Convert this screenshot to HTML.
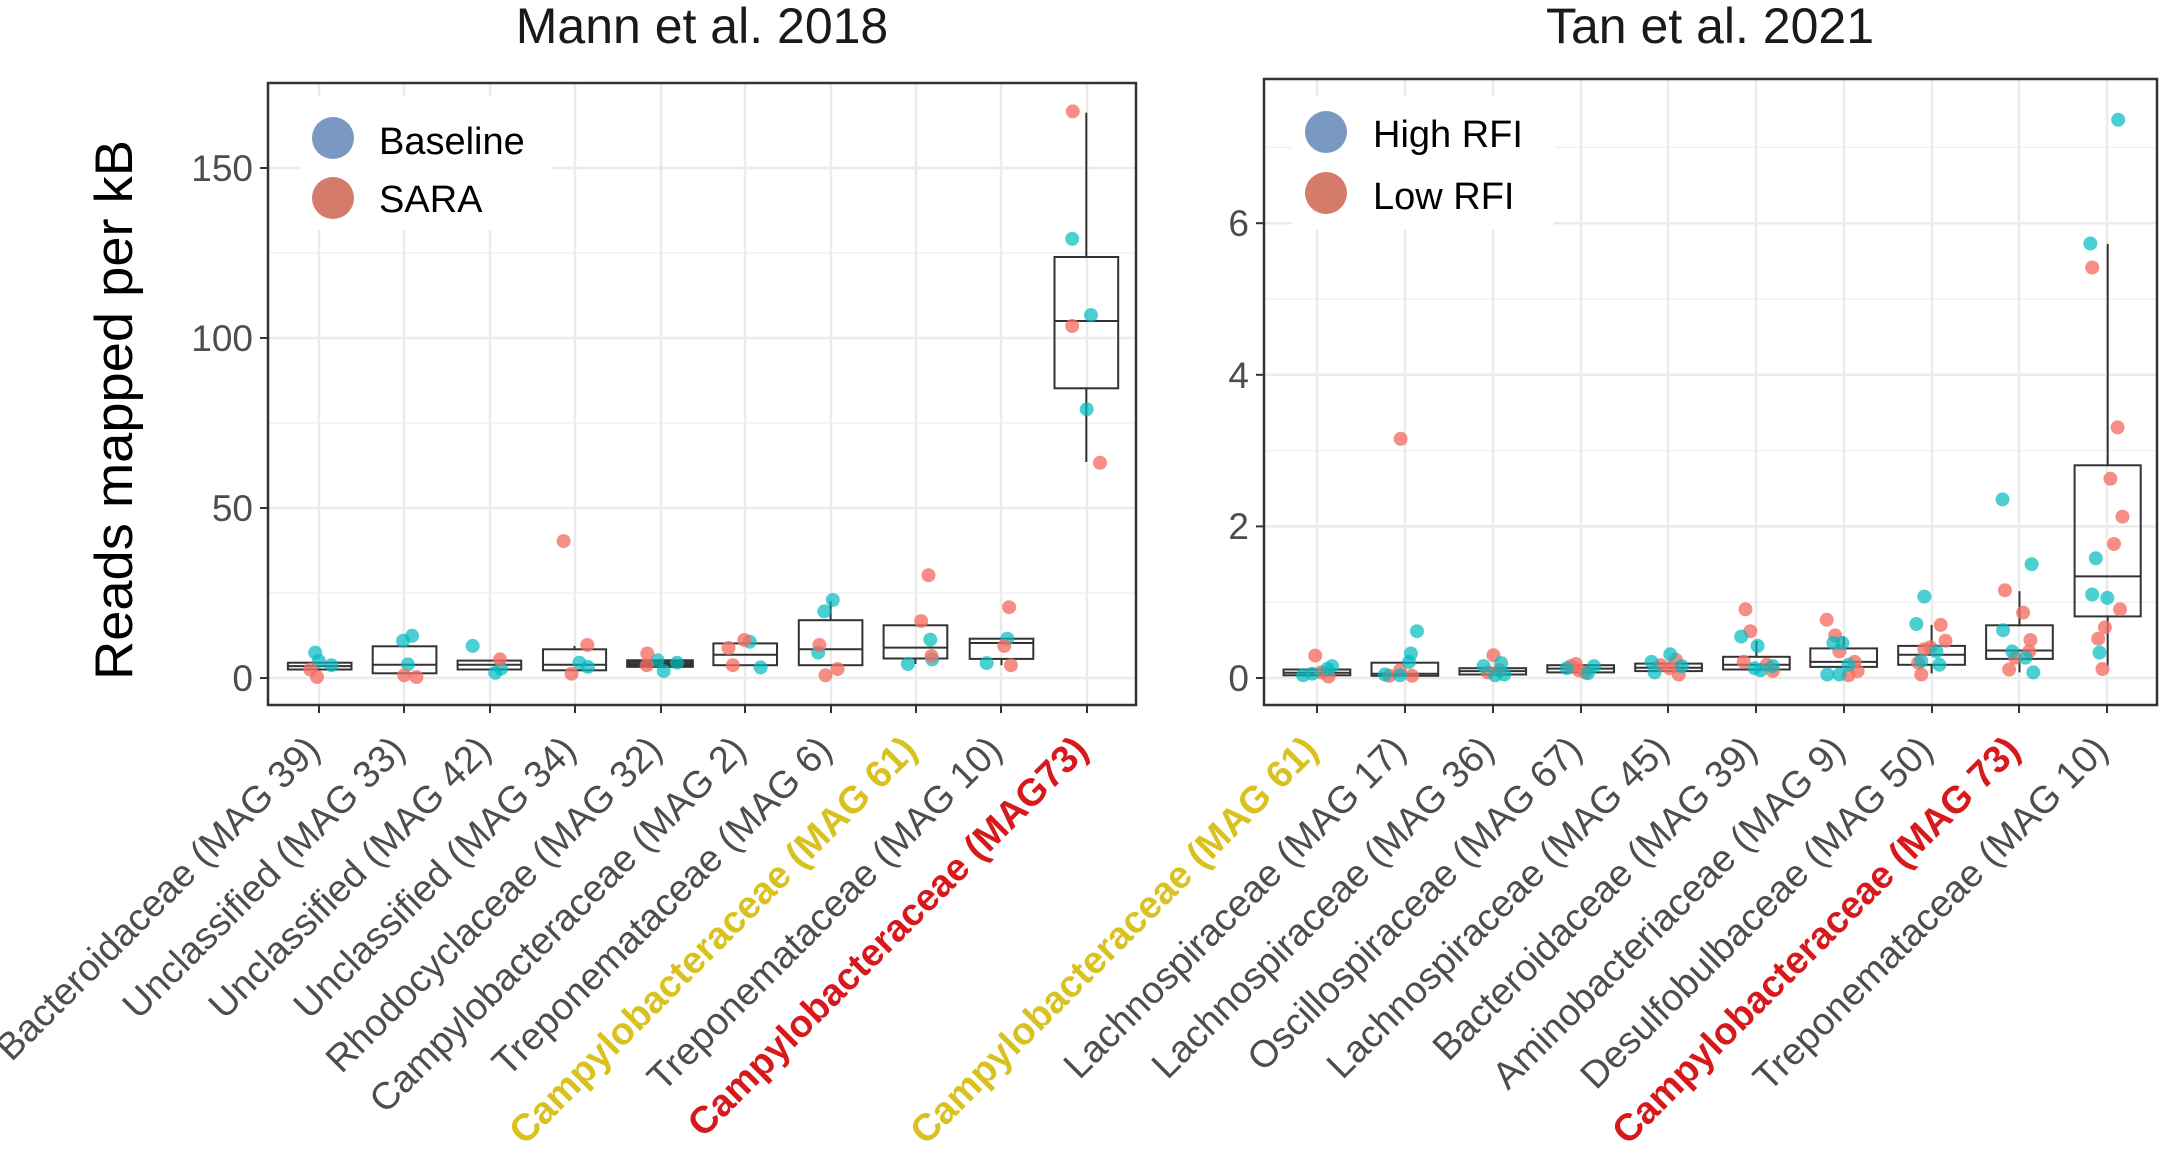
<!DOCTYPE html>
<html><head><meta charset="utf-8"><style>
html,body{margin:0;padding:0;background:#fff;}
svg{display:block;font-family:"Liberation Sans",Arial,sans-serif;}
</style></head><body>
<svg width="2161" height="1149" viewBox="0 0 2161 1149" xmlns="http://www.w3.org/2000/svg">
<rect width="2161" height="1149" fill="#fff"/>
<g stroke="#F0F0F0" stroke-width="1.5">
<line x1="268" x2="1136" y1="593" y2="593"/><line x1="268" x2="1136" y1="423" y2="423"/><line x1="268" x2="1136" y1="253" y2="253"/>
<line x1="1264" x2="2157" y1="602.2" y2="602.2"/><line x1="1264" x2="2157" y1="450.6" y2="450.6"/><line x1="1264" x2="2157" y1="299" y2="299"/><line x1="1264" x2="2157" y1="147.4" y2="147.4"/>
</g>
<g stroke="#EBEBEB" stroke-width="2.5">
<line x1="268" x2="1136" y1="678" y2="678"/><line x1="268" x2="1136" y1="508" y2="508"/><line x1="268" x2="1136" y1="338" y2="338"/><line x1="268" x2="1136" y1="168" y2="168"/>
<line x1="319" x2="319" y1="83" y2="705"/><line x1="404" x2="404" y1="83" y2="705"/><line x1="490" x2="490" y1="83" y2="705"/><line x1="575" x2="575" y1="83" y2="705"/><line x1="661" x2="661" y1="83" y2="705"/><line x1="745" x2="745" y1="83" y2="705"/><line x1="831" x2="831" y1="83" y2="705"/><line x1="916" x2="916" y1="83" y2="705"/><line x1="1001" x2="1001" y1="83" y2="705"/><line x1="1087" x2="1087" y1="83" y2="705"/>
<line x1="1264" x2="2157" y1="678" y2="678"/><line x1="1264" x2="2157" y1="526.4" y2="526.4"/><line x1="1264" x2="2157" y1="374.8" y2="374.8"/><line x1="1264" x2="2157" y1="223.2" y2="223.2"/>
<line x1="1317" x2="1317" y1="79" y2="705"/><line x1="1405" x2="1405" y1="79" y2="705"/><line x1="1493" x2="1493" y1="79" y2="705"/><line x1="1581" x2="1581" y1="79" y2="705"/><line x1="1668" x2="1668" y1="79" y2="705"/><line x1="1756" x2="1756" y1="79" y2="705"/><line x1="1844" x2="1844" y1="79" y2="705"/><line x1="1932" x2="1932" y1="79" y2="705"/><line x1="2019" x2="2019" y1="79" y2="705"/><line x1="2107" x2="2107" y1="79" y2="705"/>
</g>

<g stroke="#333" stroke-width="2" fill="none">
<rect x="287.9" y="662.7" width="63.6" height="6.8"/><line x1="287.9" x2="351.5" y1="666.1" y2="666.1"/>
<rect x="372.7" y="646.3" width="63.7" height="27"/><line x1="372.7" x2="436.4" y1="664.8" y2="664.8"/>
<rect x="457.6" y="660.6" width="63.6" height="8.9"/><line x1="457.6" x2="521.2" y1="664.8" y2="664.8"/>
<rect x="543" y="649.3" width="63.1" height="21"/><line x1="543" x2="606.1" y1="664.8" y2="664.8"/><line x1="574.5" x2="574.5" y1="645.9" y2="649.3"/>
<rect x="627.9" y="661" width="64.2" height="5.1" stroke-width="3.5"/><line x1="627.9" x2="692.1" y1="663.6" y2="663.6"/>
<rect x="713.4" y="643.4" width="63.6" height="21.8"/><line x1="713.4" x2="777" y1="654.7" y2="654.7"/>
<rect x="798.8" y="620.2" width="63.6" height="45"/><line x1="798.8" x2="862.4" y1="649.3" y2="649.3"/><line x1="830.6" x2="830.6" y1="600.9" y2="620.2"/>
<rect x="883.6" y="625.3" width="63.7" height="33.2"/><line x1="883.6" x2="947.3" y1="647.6" y2="647.6"/><line x1="915.4" x2="915.4" y1="658.5" y2="664"/>
<rect x="969.7" y="638.7" width="63.6" height="20.2"/><line x1="969.7" x2="1033.3" y1="643" y2="643"/><line x1="1001.5" x2="1001.5" y1="658.9" y2="665.2"/>
<rect x="1054.5" y="257" width="63.7" height="131.3"/><line x1="1054.5" x2="1118.2" y1="321" y2="321"/><line x1="1086.3" x2="1086.3" y1="112.6" y2="257"/><line x1="1086.3" x2="1086.3" y1="388.3" y2="462"/>
</g>
<g fill="rgba(0,186,192,0.7)">
<circle cx="315.2" cy="652.6" r="7"/><circle cx="318.8" cy="661" r="7"/><circle cx="331.5" cy="665.2" r="7"/>
<circle cx="403" cy="640.8" r="7"/><circle cx="412.1" cy="635.8" r="7"/><circle cx="407.9" cy="664.4" r="7"/>
<circle cx="472.7" cy="645.9" r="7"/><circle cx="495.2" cy="672.8" r="7"/><circle cx="501.2" cy="668.6" r="7"/>
<circle cx="579.4" cy="662.7" r="7"/><circle cx="587.9" cy="666.9" r="7"/>
<circle cx="657.6" cy="660.2" r="7"/><circle cx="663.7" cy="671.1" r="7"/><circle cx="677" cy="662.7" r="7"/>
<circle cx="749.7" cy="641.7" r="7"/><circle cx="760.6" cy="667.4" r="7"/>
<circle cx="832.8" cy="600" r="7"/><circle cx="824.3" cy="611.4" r="7"/><circle cx="818.2" cy="652.6" r="7"/>
<circle cx="907.9" cy="664" r="7"/><circle cx="930.3" cy="639.6" r="7"/><circle cx="932.2" cy="659.4" r="7"/>
<circle cx="986.7" cy="663.1" r="7"/><circle cx="1007.3" cy="638.7" r="7"/>
<circle cx="1072.2" cy="238.9" r="7"/><circle cx="1091" cy="315.1" r="7"/><circle cx="1086.7" cy="409.3" r="7"/>
</g>
<g fill="rgba(244,110,100,0.78)">
<circle cx="310.3" cy="669.5" r="7"/><circle cx="317" cy="677" r="7"/><circle cx="404.2" cy="675.3" r="7"/><circle cx="416.4" cy="677" r="7"/>
<circle cx="500" cy="659.4" r="7"/><circle cx="563.6" cy="541.1" r="7"/><circle cx="587.3" cy="645" r="7"/><circle cx="571.5" cy="673.7" r="7"/>
<circle cx="647.3" cy="653.5" r="7"/><circle cx="646.7" cy="665.2" r="7"/>
<circle cx="728.5" cy="648" r="7"/><circle cx="744.3" cy="640" r="7"/><circle cx="732.8" cy="665.2" r="7"/>
<circle cx="819.4" cy="645" r="7"/><circle cx="825.5" cy="675.3" r="7"/><circle cx="837.6" cy="669" r="7"/>
<circle cx="928.5" cy="575.2" r="7"/><circle cx="921.2" cy="621.1" r="7"/><circle cx="931.5" cy="656" r="7"/>
<circle cx="1009.1" cy="607.2" r="7"/><circle cx="1004.3" cy="645.9" r="7"/><circle cx="1010.9" cy="665.2" r="7"/>
<circle cx="1072.8" cy="111.4" r="7"/><circle cx="1072.2" cy="326" r="7"/><circle cx="1100" cy="462.8" r="7"/>
</g>

<g stroke="#333" stroke-width="2" fill="none">
<rect x="1283.6" y="669.5" width="66.7" height="5.8"/><line x1="1283.6" x2="1350.3" y1="672.8" y2="672.8"/>
<rect x="1371.5" y="662.7" width="66.7" height="13.1"/><line x1="1371.5" x2="1438.2" y1="673.7" y2="673.7"/>
<rect x="1459.4" y="668.2" width="66.7" height="6.3"/><line x1="1459.4" x2="1526.1" y1="671.1" y2="671.1"/>
<rect x="1547.3" y="665.2" width="66.7" height="7.2"/><line x1="1547.3" x2="1614" y1="668.6" y2="668.6"/>
<rect x="1635.2" y="663.6" width="66.7" height="7.5"/><line x1="1635.2" x2="1701.9" y1="667.8" y2="667.8"/>
<rect x="1723.1" y="656.8" width="66.6" height="12.7"/><line x1="1723.1" x2="1789.7" y1="664.8" y2="664.8"/><line x1="1756.4" x2="1756.4" y1="640.8" y2="656.8"/>
<rect x="1810.3" y="648.4" width="66.7" height="18.5"/><line x1="1810.3" x2="1877" y1="661.9" y2="661.9"/><line x1="1843.7" x2="1843.7" y1="636.6" y2="648.4"/>
<rect x="1898.2" y="645.9" width="66.7" height="18.9"/><line x1="1898.2" x2="1964.9" y1="654.7" y2="654.7"/><line x1="1931.6" x2="1931.6" y1="624.9" y2="645.9"/><line x1="1931.6" x2="1931.6" y1="664.8" y2="673.3"/>
<rect x="1986.1" y="625.3" width="66.7" height="33.6"/><line x1="1986.1" x2="2052.8" y1="650.5" y2="650.5"/><line x1="2019.5" x2="2019.5" y1="591.2" y2="625.3"/><line x1="2019.5" x2="2019.5" y1="658.9" y2="672.4"/>
<rect x="2074.6" y="465.3" width="66.1" height="151.1"/><line x1="2074.6" x2="2140.7" y1="576.4" y2="576.4"/><line x1="2107.7" x2="2107.7" y1="243.9" y2="465.3"/><line x1="2107.7" x2="2107.7" y1="616.4" y2="666.1"/>
</g>
<g fill="rgba(244,110,100,0.78)">
<circle cx="1315.2" cy="655.6" r="7"/><circle cx="1328.5" cy="676.6" r="7"/><circle cx="1321.2" cy="672.4" r="7"/>
<circle cx="1400.6" cy="438.8" r="7"/><circle cx="1389.1" cy="675.8" r="7"/><circle cx="1412.1" cy="675.8" r="7"/><circle cx="1400" cy="670.3" r="7"/>
<circle cx="1493.4" cy="655.2" r="7"/><circle cx="1487.9" cy="672.4" r="7"/><circle cx="1499.4" cy="670.3" r="7"/>
<circle cx="1570.9" cy="666.1" r="7"/><circle cx="1578.8" cy="670.3" r="7"/><circle cx="1584.9" cy="672.4" r="7"/><circle cx="1575.8" cy="664" r="7"/>
<circle cx="1660.6" cy="665.2" r="7"/><circle cx="1675.8" cy="659.8" r="7"/><circle cx="1678.8" cy="674.5" r="7"/><circle cx="1669.7" cy="668.2" r="7"/>
<circle cx="1745.5" cy="609.3" r="7"/><circle cx="1750.3" cy="631.2" r="7"/><circle cx="1743.7" cy="661.9" r="7"/><circle cx="1766.7" cy="664.8" r="7"/><circle cx="1772.8" cy="671.1" r="7"/>
<circle cx="1826.7" cy="619.8" r="7"/><circle cx="1835.2" cy="635.4" r="7"/><circle cx="1839.4" cy="651.4" r="7"/><circle cx="1854.6" cy="661.9" r="7"/><circle cx="1857.6" cy="671.1" r="7"/><circle cx="1848.5" cy="675.3" r="7"/>
<circle cx="1940.7" cy="624.9" r="7"/><circle cx="1945.5" cy="640.8" r="7"/><circle cx="1924.3" cy="649.3" r="7"/><circle cx="1930.4" cy="647.2" r="7"/><circle cx="1921.3" cy="674.5" r="7"/><circle cx="1918.2" cy="662.7" r="7"/>
<circle cx="2004.9" cy="590.3" r="7"/><circle cx="2023.1" cy="612.6" r="7"/><circle cx="2030.4" cy="640" r="7"/><circle cx="2009.1" cy="669.5" r="7"/><circle cx="2015.2" cy="657.7" r="7"/><circle cx="2029.2" cy="651.4" r="7"/>
<circle cx="2092.2" cy="267.5" r="7"/><circle cx="2117.6" cy="427.4" r="7"/><circle cx="2110.4" cy="478.8" r="7"/><circle cx="2122.5" cy="516.7" r="7"/><circle cx="2114" cy="544" r="7"/><circle cx="2120.1" cy="609.3" r="7"/><circle cx="2104.9" cy="627.4" r="7"/><circle cx="2098.2" cy="638.7" r="7"/><circle cx="2102.5" cy="669" r="7"/>
</g>
<g fill="rgba(0,186,192,0.7)">
<circle cx="1303" cy="675.3" r="7"/><circle cx="1312.1" cy="673.7" r="7"/><circle cx="1332.1" cy="666.1" r="7"/><circle cx="1327.3" cy="669" r="7"/>
<circle cx="1417" cy="631.2" r="7"/><circle cx="1410.9" cy="653.5" r="7"/><circle cx="1409.1" cy="661.9" r="7"/><circle cx="1384.9" cy="674.5" r="7"/><circle cx="1400" cy="675.3" r="7"/>
<circle cx="1483.6" cy="666.1" r="7"/><circle cx="1501.2" cy="663.1" r="7"/><circle cx="1495.2" cy="675.3" r="7"/><circle cx="1504.3" cy="674.5" r="7"/>
<circle cx="1566.7" cy="668.2" r="7"/><circle cx="1594" cy="666.1" r="7"/><circle cx="1587.9" cy="673.3" r="7"/>
<circle cx="1651.5" cy="661.9" r="7"/><circle cx="1670.3" cy="654.3" r="7"/><circle cx="1681.8" cy="666.1" r="7"/><circle cx="1654.6" cy="672.4" r="7"/>
<circle cx="1741.2" cy="636.6" r="7"/><circle cx="1757.6" cy="645.9" r="7"/><circle cx="1754.6" cy="668.2" r="7"/><circle cx="1760.6" cy="670.3" r="7"/><circle cx="1772.8" cy="666.1" r="7"/>
<circle cx="1827.3" cy="674.5" r="7"/><circle cx="1839.4" cy="674.5" r="7"/><circle cx="1833.3" cy="643" r="7"/><circle cx="1842.4" cy="643" r="7"/><circle cx="1848.5" cy="664.8" r="7"/>
<circle cx="1924.3" cy="596.6" r="7"/><circle cx="1916.4" cy="624" r="7"/><circle cx="1939.4" cy="664.8" r="7"/><circle cx="1921.3" cy="661" r="7"/><circle cx="1936.4" cy="651.4" r="7"/>
<circle cx="2002.5" cy="499.4" r="7"/><circle cx="2031.6" cy="564.2" r="7"/><circle cx="2003.1" cy="630.3" r="7"/><circle cx="2012.2" cy="651.4" r="7"/><circle cx="2025.5" cy="657.7" r="7"/><circle cx="2033.3" cy="672.4" r="7"/>
<circle cx="2090.4" cy="243.5" r="7"/><circle cx="2118.2" cy="119.8" r="7"/><circle cx="2095.8" cy="558.3" r="7"/><circle cx="2092.2" cy="594.5" r="7"/><circle cx="2107.3" cy="597.9" r="7"/><circle cx="2099.5" cy="652.6" r="7"/>
</g>

<g stroke="#333" stroke-width="2.5" fill="none">
<rect x="268" y="83" width="868" height="622"/>
<rect x="1264" y="79" width="893" height="626"/>
</g>
<g stroke="#333" stroke-width="2">
<line x1="260" x2="268" y1="678" y2="678"/><line x1="260" x2="268" y1="508" y2="508"/><line x1="260" x2="268" y1="338" y2="338"/><line x1="260" x2="268" y1="168" y2="168"/>
<line x1="1256" x2="1264" y1="678" y2="678"/><line x1="1256" x2="1264" y1="526.4" y2="526.4"/><line x1="1256" x2="1264" y1="374.8" y2="374.8"/><line x1="1256" x2="1264" y1="223.2" y2="223.2"/>
<line x1="319" x2="319" y1="705" y2="713"/><line x1="404" x2="404" y1="705" y2="713"/><line x1="490" x2="490" y1="705" y2="713"/><line x1="575" x2="575" y1="705" y2="713"/><line x1="661" x2="661" y1="705" y2="713"/><line x1="745" x2="745" y1="705" y2="713"/><line x1="831" x2="831" y1="705" y2="713"/><line x1="916" x2="916" y1="705" y2="713"/><line x1="1001" x2="1001" y1="705" y2="713"/><line x1="1087" x2="1087" y1="705" y2="713"/>
<line x1="1317" x2="1317" y1="705" y2="713"/><line x1="1405" x2="1405" y1="705" y2="713"/><line x1="1493" x2="1493" y1="705" y2="713"/><line x1="1581" x2="1581" y1="705" y2="713"/><line x1="1668" x2="1668" y1="705" y2="713"/><line x1="1756" x2="1756" y1="705" y2="713"/><line x1="1844" x2="1844" y1="705" y2="713"/><line x1="1932" x2="1932" y1="705" y2="713"/><line x1="2019" x2="2019" y1="705" y2="713"/><line x1="2107" x2="2107" y1="705" y2="713"/>
</g>

<rect x="300" y="96" width="252" height="134" fill="#fff"/>
<circle cx="333" cy="138" r="21" fill="#7A99C2"/>
<circle cx="333" cy="198" r="21" fill="#D57B6B"/>
<text x="379" y="154" font-size="38" fill="#000">Baseline</text>
<text x="379" y="212" font-size="38" fill="#000">SARA</text>
<rect x="1292" y="96" width="262" height="134" fill="#fff"/>
<circle cx="1326" cy="132" r="21" fill="#7A99C2"/>
<circle cx="1326" cy="193" r="21" fill="#D57B6B"/>
<text x="1373" y="147" font-size="38" fill="#000">High RFI</text>
<text x="1373" y="209" font-size="38" fill="#000">Low RFI</text>

<text x="702" y="43" font-size="50" text-anchor="middle" fill="#1a1a1a">Mann et al. 2018</text>
<text x="1710" y="43" font-size="50" text-anchor="middle" fill="#1a1a1a">Tan et al. 2021</text>
<text transform="translate(132,410) rotate(-90)" font-size="53" text-anchor="middle" textLength="540" lengthAdjust="spacingAndGlyphs" fill="#000">Reads mapped per kB</text>

<g font-size="37" fill="#4D4D4D" text-anchor="end">
<text x="253" y="691">0</text><text x="253" y="521">50</text><text x="253" y="351">100</text><text x="253" y="181">150</text>
<text x="1249" y="691">0</text><text x="1249" y="539">2</text><text x="1249" y="388">4</text><text x="1249" y="236">6</text>
</g>

<g font-size="38" fill="#4D4D4D" text-anchor="end" xml:space="preserve">
<text transform="translate(322,752) rotate(-45)">Bacteroidaceae (MAG 39)</text>
<text transform="translate(407,752) rotate(-45)">Unclassified (MAG 33)</text>
<text transform="translate(493,752) rotate(-45)">Unclassified  (MAG 42)</text>
<text transform="translate(578,752) rotate(-45)">Unclassified (MAG 34)</text>
<text transform="translate(664,752) rotate(-45)">Rhodocyclaceae (MAG 32)</text>
<text transform="translate(748,752) rotate(-45)">Campylobacteraceae (MAG 2)</text>
<text transform="translate(834,752) rotate(-45)">Treponemataceae (MAG 6)</text>
<text transform="translate(919,752) rotate(-45)" fill="#D9C21F" font-weight="bold">Campylobacteraceae (MAG 61)</text>
<text transform="translate(1004,752) rotate(-45)">Treponemataceae (MAG 10)</text>
<text transform="translate(1090,752) rotate(-45)" fill="#D7191C" font-weight="bold">Campylobacteraceae (MAG73)</text>
<text transform="translate(1320,752) rotate(-45)" fill="#D9C21F" font-weight="bold">Campylobacteraceae (MAG 61)</text>
<text transform="translate(1408,752) rotate(-45)">Lachnospiraceae (MAG 17)</text>
<text transform="translate(1496,752) rotate(-45)">Lachnospiraceae (MAG 36)</text>
<text transform="translate(1584,752) rotate(-45)">Oscillospiraceae (MAG 67)</text>
<text transform="translate(1671,752) rotate(-45)">Lachnospiraceae (MAG 45)</text>
<text transform="translate(1759,752) rotate(-45)">Bacteroidaceae (MAG 39)</text>
<text transform="translate(1847,752) rotate(-45)">Aminobacteriaceae (MAG 9)</text>
<text transform="translate(1935,752) rotate(-45)">Desulfobulbaceae (MAG 50)</text>
<text transform="translate(2022,752) rotate(-45)" fill="#D7191C" font-weight="bold">Campylobacteraceae (MAG 73)</text>
<text transform="translate(2110,752) rotate(-45)">Treponemataceae (MAG 10)</text>
</g>
</svg>
</body></html>
